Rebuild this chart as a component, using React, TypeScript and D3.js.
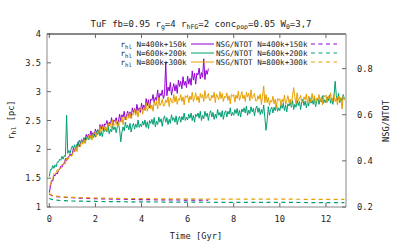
import React from "react";
import * as d3 from "d3";

// ---- data ----
const TIME_STEP = 0.05; // Gyr between samples
const rhl400: number[] = [
  1.25, 1.36, 1.46, 1.45, 1.55, 1.54, 1.59, 1.57, 1.64, 1.65, 1.71, 1.69, 1.75, 1.75, 1.84, 1.8, 1.86, 1.87, 1.92, 1.89,
  1.93, 2.03, 1.96, 2.05, 2.03, 2.13, 2.04, 2.11, 2.17, 2.13, 2.2, 2.14, 2.26, 2.21, 2.26, 2.2, 2.32, 2.25, 2.29, 2.24,
  2.35, 2.28, 2.34, 2.29, 2.43, 2.35, 2.43, 2.33, 2.44, 2.43, 2.5, 2.4, 2.47, 2.43, 2.55, 2.42, 2.51, 2.48, 2.55, 2.44,
  2.49, 2.61, 2.48, 2.6, 2.56, 2.66, 2.51, 2.59, 2.66, 2.57, 2.65, 2.54, 2.72, 2.64, 2.71, 2.62, 2.78, 2.67, 2.72, 2.64,
  2.8, 2.69, 2.77, 2.68, 2.88, 2.76, 2.86, 2.72, 2.87, 2.85, 2.95, 2.81, 2.9, 2.85, 3.03, 2.84, 2.97, 2.93, 3.03, 2.88,
  2.95, 3.5, 2.93, 3.08, 3.01, 3.16, 2.94, 3.05, 3.14, 3.01, 3.12, 2.97, 3.2, 3.09, 3.18, 3.05, 3.26, 3.11, 3.18, 3.07,
  3.27, 3.13, 3.23, 3.11, 3.36, 3.2, 3.32, 3.13, 3.32, 3.29, 3.41, 3.22, 3.33, 3.25, 3.57, 3.21, 3.37, 3.3, 3.4,
];
const rhl600: number[] = [
  1.53, 1.65, 1.65, 1.72, 1.67, 1.73, 1.7, 1.78, 1.78, 1.83, 1.81, 1.88, 1.83, 1.89, 1.88, 2.59, 1.93, 1.98, 1.93, 2.01,
  2.06, 2.01, 2.08, 2.01, 2.09, 2.05, 2.16, 2.11, 2.15, 2.11, 2.2, 2.11, 2.18, 2.22, 2.17, 2.23, 2.19, 2.28, 2.2, 2.25,
  2.21, 2.31, 2.25, 2.33, 2.23, 2.31, 2.22, 2.34, 2.31, 2.36, 2.3, 2.4, 2.27, 2.35, 2.3, 2.41, 2.34, 2.39, 2.29, 2.39,
  2.45, 2.34, 2.13, 2.3, 2.39, 2.32, 2.47, 2.37, 2.42, 2.34, 2.45, 2.3, 2.4, 2.45, 2.35, 2.44, 2.38, 2.51, 2.38, 2.44,
  2.39, 2.49, 2.42, 2.51, 2.38, 2.48, 2.36, 2.5, 2.45, 2.52, 2.43, 2.55, 2.39, 2.49, 2.43, 2.56, 2.47, 2.53, 2.4, 2.53,
  2.58, 2.47, 2.55, 2.43, 2.52, 2.45, 2.6, 2.5, 2.55, 2.47, 2.58, 2.43, 2.53, 2.57, 2.47, 2.57, 2.51, 2.63, 2.5, 2.56,
  2.51, 2.61, 2.54, 2.63, 2.5, 2.59, 2.47, 2.61, 2.57, 2.63, 2.54, 2.66, 2.5, 2.59, 2.53, 2.66, 2.57, 2.63, 2.5, 2.62,
  2.67, 2.56, 2.64, 2.52, 2.61, 2.54, 2.69, 2.59, 2.64, 2.56, 2.67, 2.52, 2.63, 2.67, 2.56, 2.66, 2.61, 2.72, 2.58, 2.64,
  2.59, 2.69, 2.62, 2.71, 2.58, 2.68, 2.56, 2.7, 2.65, 2.72, 2.63, 2.75, 2.59, 2.68, 2.62, 2.74, 2.65, 2.71, 2.58, 2.7,
  2.75, 2.64, 2.72, 2.6, 2.69, 2.62, 2.77, 2.55, 2.33, 2.5, 2.74, 2.59, 2.69, 2.73, 2.63, 2.73, 2.67, 2.79, 2.66, 2.72,
  2.67, 2.78, 2.71, 2.8, 2.67, 2.77, 2.65, 2.79, 2.75, 2.82, 2.73, 2.85, 2.69, 2.78, 2.73, 2.85, 2.76, 2.83, 2.69, 2.82,
  2.87, 2.76, 2.84, 2.72, 2.82, 2.75, 2.9, 2.8, 2.85, 2.78, 2.88, 2.74, 2.83, 2.88, 2.78, 2.87, 2.82, 2.93, 2.8, 2.86,
  2.81, 2.91, 2.84, 2.94, 2.8, 2.89, 2.78, 2.93, 3.18, 2.93, 2.85, 2.97, 2.81, 2.89, 2.84, 2.95, 2.87,
];
const rhl800: number[] = [
  1.35, 1.39, 1.47, 1.49, 1.58, 1.56, 1.6, 1.65, 1.63, 1.68, 1.66, 1.74, 1.73, 1.78, 1.75, 1.85, 1.82, 1.86, 1.9, 1.88,
  1.89, 1.98, 1.97, 2.05, 1.96, 2.07, 2.06, 2.04, 2.15, 2.09, 2.17, 2.1, 2.17, 2.17, 2.24, 2.17, 2.24, 2.16, 2.27, 2.27,
  2.31, 2.22, 2.32, 2.29, 2.4, 2.29, 2.35, 2.43, 2.34, 2.4, 2.32, 2.45, 2.4, 2.45, 2.35, 2.51, 2.41, 2.44, 2.5, 2.4,
  2.41, 2.5, 2.47, 2.56, 2.43, 2.56, 2.53, 2.51, 2.63, 2.54, 2.63, 2.53, 2.61, 2.6, 2.69, 2.59, 2.67, 2.56, 2.7, 2.68,
  2.73, 2.61, 2.73, 2.67, 2.81, 2.66, 2.73, 2.82, 2.7, 2.77, 2.66, 2.83, 2.76, 2.83, 2.7, 2.9, 2.76, 2.8, 2.87, 2.75,
  2.76, 2.86, 2.81, 2.91, 2.74, 2.89, 2.84, 2.8, 2.95, 2.82, 2.92, 2.78, 2.88, 2.85, 2.95, 2.83, 2.91, 2.77, 2.93, 2.9,
  2.94, 2.81, 2.92, 2.86, 2.99, 2.83, 2.9, 2.98, 2.85, 2.92, 2.81, 2.97, 2.89, 2.95, 2.83, 3.02, 2.88, 2.91, 2.97, 2.85,
  2.85, 2.94, 2.89, 2.99, 2.81, 2.96, 2.91, 2.86, 3.0, 2.88, 2.97, 2.83, 2.92, 2.89, 2.98, 2.85, 2.93, 2.79, 2.95, 2.92,
  2.95, 2.82, 2.94, 2.88, 3.01, 2.85, 2.92, 3.0, 2.88, 2.94, 2.83, 2.99, 2.91, 2.97, 2.84, 3.03, 2.88, 2.92, 2.97, 2.84,
  2.84, 2.93, 2.87, 2.96, 2.78, 2.92, 3.1, 2.81, 2.95, 2.81, 2.9, 2.76, 2.85, 2.82, 2.92, 2.79, 2.87, 2.72, 2.88, 2.85,
  2.88, 2.75, 2.87, 2.81, 2.94, 2.78, 2.85, 2.93, 2.81, 2.87, 2.76, 2.93, 3.07, 2.91, 2.79, 2.98, 2.84, 2.87, 2.94, 2.81,
  2.82, 2.91, 2.86, 2.96, 2.78, 2.92, 2.87, 2.82, 2.97, 2.84, 2.93, 2.79, 2.89, 2.86, 2.95, 2.83, 2.91, 2.77, 2.94, 2.91,
  2.94, 2.81, 2.92, 2.86, 2.98, 2.82, 2.88, 2.95, 2.83, 2.88, 2.77, 2.92, 2.84, 2.9, 2.7, 2.93, 2.85,
];

const nsgTime400: number[] = [0, 0.1, 0.25, 0.5, 1, 2, 3, 4, 5, 6, 6.9];
const nsg400: number[] = [0.256, 0.25, 0.246, 0.243, 0.24, 0.236, 0.234, 0.232, 0.231, 0.23, 0.23];
const nsgTime: number[] = [0, 0.1, 0.25, 0.5, 1, 2, 3, 4, 6, 8, 10, 12, 12.8];
const nsg600: number[] = [0.238, 0.233, 0.23, 0.228, 0.226, 0.224, 0.223, 0.222, 0.221, 0.22, 0.22, 0.219, 0.219];
const nsg800: number[] = [0.258, 0.252, 0.248, 0.245, 0.242, 0.239, 0.237, 0.236, 0.235, 0.234, 0.234, 0.233, 0.233];

const xTicks = [0, 2, 4, 6, 8, 10, 12];
const yTicks = [1, 1.5, 2, 2.5, 3, 3.5, 4];
const y2Ticks = [0.2, 0.4, 0.6, 0.8];
const labels = ["N=400k+150k", "N=600k+200k", "N=800k+300k"];
const colors = ["#9400d3", "#009e73", "#e69f00"];

// ---- layout ----
const W = 407, H = 244;
const L = 47, R = 346, T = 34, B = 207;
const FONT = "'DejaVu Sans Mono', 'Liberation Mono', monospace";

export default function App() {
  const x = d3.scaleLinear().domain([-0.1, 12.87]).range([L, R]);
  const y = d3.scaleLinear().domain([1, 4]).range([B, T]);
  const y2 = d3.scaleLinear().domain([0.2, 0.95]).range([B, T]);

  const lineY = d3.line<number>().x((_, i) => x(i * TIME_STEP)).y((d) => y(d));
  const lineY2 = (ts: number[]) => d3.line<number>().x((_, i) => x(ts[i])).y((d) => y2(d));

  const solid = [rhl400, rhl600, rhl800];
  const dashed: [number[], number[]][] = [
    [nsgTime400, nsg400],
    [nsgTime, nsg600],
    [nsgTime, nsg800],
  ];
  const fmt = d3.format("");
  const legendY = [44, 53, 62];

  return (
    <svg width={W} height={H} style={{ position: "absolute", left: 0, top: 0 }} fontFamily={FONT}>
      <rect width={W} height={H} fill="#fff" />
      <defs>
        <clipPath id="plot">
          <rect x={L} y={T} width={R - L} height={B - T} />
        </clipPath>
      </defs>
      {/* title */}
      <text x={201} y={27} textAnchor="middle" fontSize={9} fill="#222">
        TuF fb=0.95 r<tspan dy={2} fontSize={6.5}>g</tspan>
        <tspan dy={-2}>=4 r</tspan><tspan dy={2} fontSize={6.5}>hFG</tspan>
        <tspan dy={-2}>=2 conc</tspan><tspan dy={2} fontSize={6.5}>pop</tspan>
        <tspan dy={-2}>=0.05 W</tspan><tspan dy={2} fontSize={6.5}>0</tspan>
        <tspan dy={-2}>=3,7</tspan>
      </text>

      {/* data */}
      <g clipPath="url(#plot)" fill="none">
        {solid.map((s, k) => (
          <path key={"s" + k} d={lineY(s) || ""} stroke={colors[k]} strokeWidth={1} strokeLinejoin="round" />
        ))}
        {dashed.map(([ts, vs], k) => (
          <path key={"d" + k} d={lineY2(ts)(vs) || ""} stroke={colors[k]} strokeWidth={1.2} strokeDasharray="4,3.5" />
        ))}
      </g>

      {/* frame */}
      <line x1={L} x2={R} y1={T} y2={T} stroke="#111" strokeWidth={1} />
      <line x1={L} x2={R} y1={B} y2={B} stroke="#888" strokeWidth={1} />
      <line x1={L} x2={L} y1={T} y2={B} stroke="#888" strokeWidth={1} />
      <line x1={R} x2={R} y1={T} y2={B} stroke="#888" strokeWidth={1} />

      {/* x ticks */}
      {xTicks.map((t) => (
        <g key={"x" + t}>
          <line x1={x(t)} x2={x(t)} y1={B} y2={B - 4} stroke="#666" />
          <line x1={x(t)} x2={x(t)} y1={T} y2={T + 4} stroke="#666" />
          <text x={x(t)} y={222} textAnchor="middle" fontSize={8.7} fill="#222">{fmt(t)}</text>
        </g>
      ))}
      {/* y ticks */}
      {yTicks.map((t) => (
        <g key={"y" + t}>
          <line x1={L} x2={L + 4} y1={y(t)} y2={y(t)} stroke="#666" />
          <text x={41} y={y(t) + 3} textAnchor="end" fontSize={8.7} fill="#222">{fmt(t)}</text>
        </g>
      ))}
      {/* y2 ticks */}
      {y2Ticks.map((t) => (
        <g key={"y2" + t}>
          <line x1={R} x2={R - 4} y1={y2(t)} y2={y2(t)} stroke="#666" />
          <text x={357} y={y2(t) + 3} textAnchor="start" fontSize={8.7} fill="#222">{t.toFixed(1)}</text>
        </g>
      ))}

      {/* axis labels */}
      <text x={196} y={239} textAnchor="middle" fontSize={8.7} fill="#222">Time [Gyr]</text>
      <text transform="translate(14,120) rotate(-90)" textAnchor="middle" fontSize={8.7} fill="#222">
        r<tspan dy={2} fontSize={6.5}>hl</tspan><tspan dy={-2}> [pc]</tspan>
      </text>
      <text transform="translate(389,121) rotate(-90)" textAnchor="middle" fontSize={8.7} fill="#222">NSG/NTOT</text>

      {/* legend */}
      {labels.map((lab, k) => (
        <g key={"l" + k}>
          <text x={186.7} y={legendY[k] + 2.7} textAnchor="end" fontSize={7.6} fill="#222">
            r<tspan dy={2} fontSize={5.6}>hl</tspan><tspan dy={-2}> {lab}</tspan>
          </text>
          <line x1={191} x2={214} y1={legendY[k]} y2={legendY[k]} stroke={colors[k]} strokeWidth={1} />
          <text x={307.5} y={legendY[k] + 2.7} textAnchor="end" fontSize={7.6} fill="#222">NSG/NTOT {lab}</text>
          <line x1={311} x2={337} y1={legendY[k]} y2={legendY[k]} stroke={colors[k]} strokeWidth={1.2} strokeDasharray="4,3.5" />
        </g>
      ))}
    </svg>
  );
}
